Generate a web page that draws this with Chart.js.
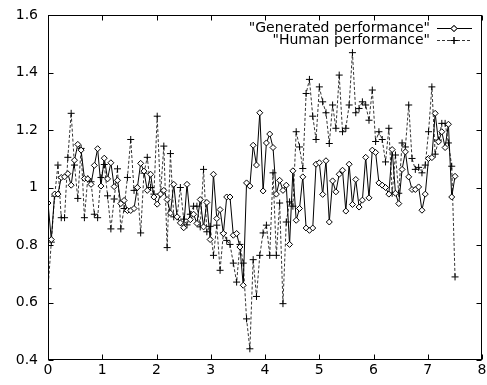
<!DOCTYPE html>
<html>
<head>
<meta charset="utf-8">
<script src="https://cdn.jsdelivr.net/npm/chart.js@4"></script>
<style>
  html, body { margin: 0; padding: 0; background: #fff; }
  #wrap { width: 487px; height: 385px; }
</style>
</head>
<body>
<div id="wrap"><canvas id="perf-chart"></canvas></div>
<script>
// sample spacing along x (one run every ~0.061)
const xStep = 0.061;

const generated = [
  0.946,0.819,0.977,0.977,1.035,1.037,1.048,1.008,1.095,1.15,1.13,1.031,1.03,1.011,1.077,1.135,1.005,1.102,1.03,1.086,1.003,1.025,0.944,0.955,0.92,0.92,
  0.927,1.0,1.084,1.057,0.99,1.046,0.967,0.942,0.977,0.99,0.958,0.911,1.011,0.898,0.877,0.86,1.011,0.888,0.907,0.875,0.958,0.863,0.948,0.819,1.046,
  0.892,0.923,0.84,0.967,0.967,0.834,0.84,0.793,0.66,1.016,1.005,1.147,1.078,1.26,0.988,1.155,1.186,1.139,0.977,1.025,0.99,1.008,0.802,1.058,0.886,
  0.927,1.037,0.859,0.851,0.859,1.081,1.086,0.976,1.093,0.88,1.023,0.985,1.046,1.06,0.918,1.081,0.941,1.028,0.932,0.956,1.105,0.964,1.13,1.122,
  1.016,1.008,1.0,0.977,1.132,0.98,0.944,1.063,1.124,1.037,0.993,0.993,1.002,0.921,0.977,1.101,1.104,1.258,1.159,1.194,1.139,1.22,0.967,1.039
];

const human = [
  0.648,0.81,0.97,1.078,0.895,0.895,1.105,1.258,1.078,0.962,1.136,0.895,1.03,1.02,0.907,0.895,1.035,1.08,0.971,0.856,0.96,1.065,0.856,0.927,1.035,1.167,
  0.99,1.0,0.842,1.05,1.105,1.0,0.977,1.248,0.977,1.144,0.791,1.118,0.898,0.898,1.0,0.89,0.87,0.907,0.935,0.935,0.863,1.063,0.846,0.865,0.764,
  0.869,0.712,0.842,0.816,0.802,0.737,0.671,0.802,0.737,0.543,0.439,0.749,0.621,0.764,0.842,0.869,0.764,1.051,0.764,0.946,0.596,0.88,0.95,0.935,1.194,
  1.141,1.066,1.327,1.376,1.248,1.167,1.35,1.298,1.26,1.153,1.287,1.206,1.391,1.194,1.206,1.287,1.469,1.26,1.275,1.298,1.287,1.234,1.339,1.16,
  1.194,1.167,1.089,1.206,0.98,1.113,0.98,1.155,1.141,1.287,1.101,1.063,1.07,1.051,1.078,1.194,1.35,1.116,1.165,1.223,1.223,1.155,1.074,0.689
];

const legendLabels = ['"Generated performance"', '"Human performance"'];
const xTicks = [0, 1, 2, 3, 4, 5, 6, 7, 8];
const yTicks = [0.4, 0.6, 0.8, 1, 1.2, 1.4, 1.6];

const FONT = '14px "DejaVu Sans", sans-serif';

const toPoints = (arr) => arr.map((v, i) => ({ x: i * xStep, y: v }));

// gnuplot style frame, inward ticks on all four sides, and the key
const gnuplotFrame = {
  id: 'gnuplotFrame',
  afterDatasetsDraw(chart) {
    const { ctx, chartArea: a, scales } = chart;
    const L = Math.round(a.left) + 0.5, R = Math.round(a.right) - 0.5;
    const T = Math.round(a.top) + 0.5, B = Math.round(a.bottom) - 0.5;
    const tl = 5;
    ctx.save();
    ctx.strokeStyle = '#000';
    ctx.lineWidth = 1;
    ctx.setLineDash([]);
    ctx.beginPath();
    xTicks.forEach(t => {
      const px = Math.round(scales.x.getPixelForValue(t)) + 0.5;
      ctx.moveTo(px, B); ctx.lineTo(px, B - tl);
      ctx.moveTo(px, T); ctx.lineTo(px, T + tl);
    });
    yTicks.forEach(t => {
      const py = Math.round(scales.y.getPixelForValue(t)) + 0.5;
      ctx.moveTo(L, py); ctx.lineTo(L + tl, py);
      ctx.moveTo(R, py); ctx.lineTo(R - tl, py);
    });
    ctx.stroke();
    ctx.strokeRect(L, T, R - L, B - T);

    // key
    ctx.font = FONT;
    ctx.fillStyle = '#000';
    ctx.textAlign = 'right';
    ctx.textBaseline = 'middle';
    const rows = [28, 40];
    const sx0 = 437, sx1 = 472, mx = 454;
    chart.data.datasets.forEach((ds, i) => {
      const y = rows[i] + 0.5;
      ctx.fillText(legendLabels[i], 430, rows[i]);
      ctx.strokeStyle = ds.borderColor;
      ctx.setLineDash(ds.borderDash || []);
      ctx.beginPath();
      ctx.moveTo(sx0, y); ctx.lineTo(sx1, y);
      ctx.stroke();
      ctx.setLineDash([]);
      ctx.strokeStyle = '#000';
      Chart.helpers.drawPoint(ctx, {
        pointStyle: ds.pointStyle, radius: ds.pointRadius, borderWidth: 1
      }, mx, y);
      if (ds.pointStyle === 'rectRot') { ctx.fillStyle = '#fff'; ctx.fill(); ctx.fillStyle = '#000'; }
      ctx.stroke();
    });
    ctx.restore();
  }
};

const ctx = document.getElementById('perf-chart');

new Chart(ctx, {
  type: 'line',
  data: {
    datasets: [
      {
        label: legendLabels[0],
        data: toPoints(generated),
        borderColor: '#000',
        borderWidth: 1,
        backgroundColor: '#fff',
        pointStyle: 'rectRot',
        pointRadius: 3,
        pointBorderWidth: 1,
        pointBorderColor: '#000',
        pointBackgroundColor: '#fff',
        tension: 0,
      },
      {
        label: legendLabels[1],
        data: toPoints(human),
        borderColor: '#333',
        borderWidth: 1,
        borderDash: [3, 2],
        pointStyle: 'cross',
        pointRadius: 3.5,
        pointBorderWidth: 1,
        pointBorderColor: '#000',
        tension: 0,
      },
    ],
  },
  options: {
    animation: false,
    responsive: true,
    maintainAspectRatio: false,
    layout: { padding: { top: 15, left: 0, right: 2, bottom: 0 } },
    plugins: { legend: { display: false }, tooltip: { enabled: false } },
    scales: {
      x: {
        type: 'linear',
        min: 0,
        max: 8,
        grid: { display: false, drawTicks: false },
        border: { display: false },
        ticks: {
          stepSize: 1,
          padding: 2,
          color: '#000',
          font: { family: '"DejaVu Sans", sans-serif', size: 14 },
          maxRotation: 0,
        },
        afterFit(scale) {
          scale.height = 25;
          scale.paddingLeft = 0;
          scale.paddingRight = 0;
        },
      },
      y: {
        min: 0.4,
        max: 1.6,
        grid: { display: false, drawTicks: false },
        border: { display: false },
        ticks: {
          stepSize: 0.2,
          padding: 10,
          color: '#000',
          font: { family: '"DejaVu Sans", sans-serif', size: 14 },
          callback: (v) => String(+v.toFixed(1)),
        },
        afterFit(scale) {
          scale.width = 48;
          scale.paddingTop = 0;
          scale.paddingBottom = 0;
        },
      },
    },
  },
  plugins: [gnuplotFrame],
});
</script>
</body>
</html>
